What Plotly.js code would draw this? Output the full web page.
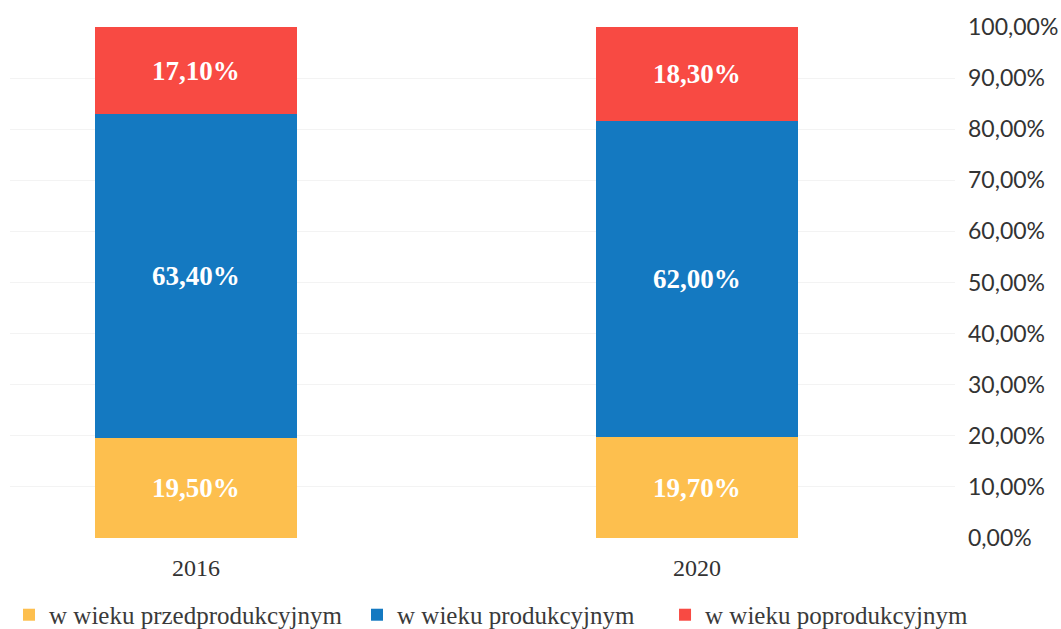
<!DOCTYPE html>
<html>
<head>
<meta charset="utf-8">
<script src="https://cdn.plot.ly/plotly-3.0.1.min.js"></script>
<style>html,body{margin:0;padding:0;background:#fff;}#chart{width:1061px;height:629px;}</style>
</head>
<body>
<div id="chart"></div>
<script>
const years = ['2016', '2020'];
const przedprodukcyjny = [19.5, 19.7];
const produkcyjny = [63.4, 62.0];
const poprodukcyjny = [17.1, 18.3];
const seriesNames = ['w wieku przedprodukcyjnym', 'w wieku produkcyjnym', 'w wieku poprodukcyjnym'];
const yTickValues = [0, 10, 20, 30, 40, 50, 60, 70, 80, 90, 100];
const yTickLabels = ['0,00%', '10,00%', '20,00%', '30,00%', '40,00%', '50,00%', '60,00%', '70,00%', '80,00%', '90,00%', '100,00%'];

const fmt = v => v.toFixed(2).replace('.', ',') + '%';
const colors = ['#FDBF4E', '#1479C1', '#F84A43'];
const seriesVals = [przedprodukcyjny, produkcyjny, poprodukcyjny];
const legendIds = ['legend', 'legend2', 'legend3'];

const traces = seriesVals.map((vals, i) => ({
  type: 'bar',
  name: seriesNames[i],
  x: years,
  y: vals,
  width: 0.403,
  marker: {color: colors[i], line: {width: 0}},
  text: vals.map(fmt),
  textposition: 'inside',
  insidetextanchor: 'middle',
  textangle: 0,
  insidetextfont: {family: 'Liberation Serif, serif', size: 27, color: '#ffffff', weight: 'bold'},
  hoverinfo: 'skip',
  legend: legendIds[i]
}));

const legFont = {family: 'Liberation Serif, serif', size: 25, color: '#3a3a3a'};
const legBase = {orientation: 'h', xref: 'container', yref: 'container', yanchor: 'middle', xanchor: 'left', y: 0.0223, font: legFont, bgcolor: 'rgba(0,0,0,0)', itemclick: false};

const layout = {
  width: 1061,
  height: 629,
  margin: {l: 10, r: 106, t: 27, b: 91, autoexpand: false},
  paper_bgcolor: '#ffffff',
  plot_bgcolor: '#ffffff',
  barmode: 'stack',
  showlegend: true,
  legend: Object.assign({}, legBase, {x: 0.0085}),
  legend2: Object.assign({}, legBase, {x: 0.3365}),
  legend3: Object.assign({}, legBase, {x: 0.6268}),
  xaxis: {
    type: 'category',
    range: [-0.371, 1.515],
    showgrid: false,
    zeroline: false,
    showline: false,
    ticks: '',
    automargin: false,
    tickfont: {family: 'Liberation Serif, serif', size: 24, color: '#333333'},
    ticklabelstandoff: 13
  },
  yaxis: {
    side: 'right',
    range: [0, 100],
    tickvals: yTickValues,
    ticktext: yTickLabels,
    showgrid: true,
    gridcolor: '#f3f3f3',
    gridwidth: 1,
    zeroline: false,
    showline: false,
    ticks: '',
    automargin: false,
    tickfont: {family: 'Lato, sans-serif', size: 23, color: '#333333'},
    ticklabelstandoff: 12
  },
  bargap: 0
};

Plotly.newPlot('chart', traces, layout, {staticPlot: true, displayModeBar: false});
</script>
</body>
</html>
